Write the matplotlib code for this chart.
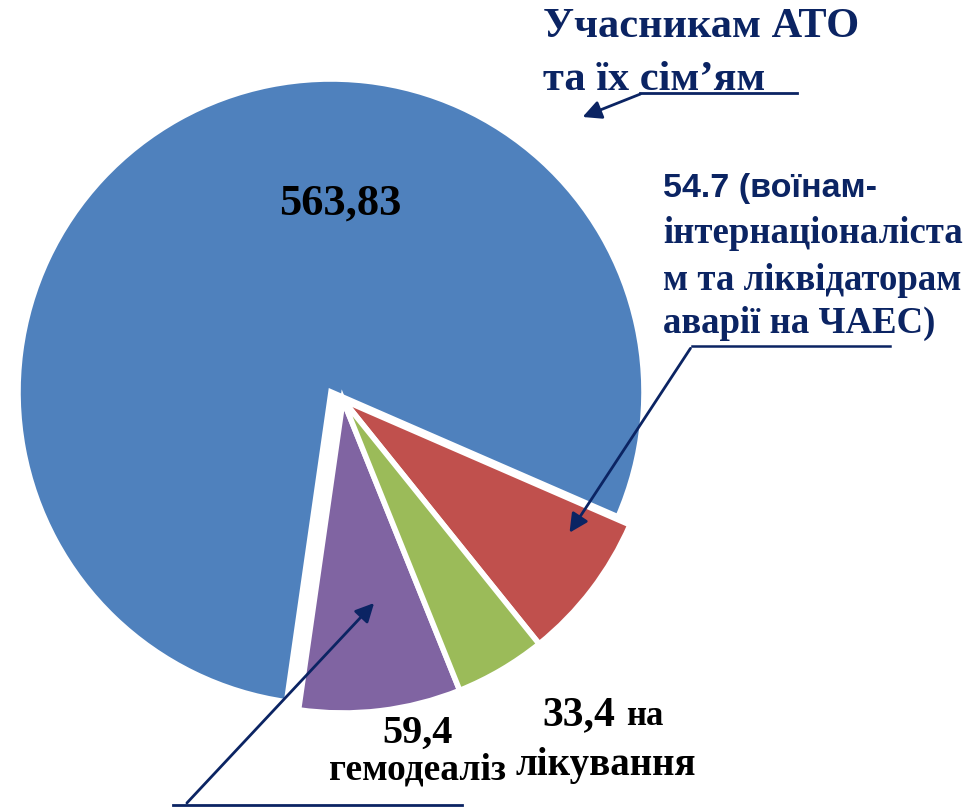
import matplotlib.pyplot as plt

# --- data
slice_names = ['ЧАЕС', 'АТО', 'гемодеаліз', 'лікування']
slice_values = [54.7, 563.83, 59.4, 33.4]
slice_colors = ['#C0504D', '#4F81BD', '#8064A2', '#9BBB59']
exploded = [True, False, True, True]   # small slices pulled out as a group

NAVY = '#0B2463'
SERIF = 'Liberation Serif'
SANS = 'Liberation Sans'
W, H = 980, 809


def py(y):
    # pixel row (from top) -> data y (from bottom)
    return H - y


fig = plt.figure(figsize=(W / 100, H / 100), dpi=100)
ax = fig.add_axes([0, 0, 1, 1])

cx, cy, r = 331, py(392), 313
wedges, _ = ax.pie(slice_values, colors=slice_colors, startangle=-51.2,
                   center=(cx, cy), radius=r, frame=True,
                   wedgeprops=dict(edgecolor='white', linewidth=4))
ax.set_xlim(0, W)
ax.set_ylim(0, H)
ax.set_aspect('equal')
ax.axis('off')
for w, ex in zip(wedges, exploded):
    if ex:
        w.set_center((cx + 12, cy - 8))

# --- value labels
ax.text(340, py(215), '563,83', family=SERIF, weight='bold', fontsize=32,
        color='black', ha='center', va='baseline')
ax.text(417, py(743), '59,4', family=SERIF, weight='bold', fontsize=29,
        color='black', ha='center', va='baseline')
ax.text(417, py(780), 'гемодеаліз', family=SERIF, weight='bold', fontsize=27,
        color='black', ha='center', va='baseline')
ax.text(542, py(725), '33,4', family=SERIF, weight='bold', fontsize=30,
        color='black', ha='left', va='baseline')
ax.text(626, py(725), 'на', family=SERIF, weight='bold', fontsize=25,
        color='black', ha='left', va='baseline')
ax.text(606, py(775), 'лікування', family=SERIF, weight='bold', fontsize=28,
        color='black', ha='center', va='baseline')

# --- title with underline and arrow
ax.text(543, py(37), 'Учасникам АТО', family=SERIF, weight='bold', fontsize=30.5,
        color=NAVY, ha='left', va='baseline')
ax.text(543, py(90), 'та їх сім’ям', family=SERIF, weight='bold', fontsize=30.5,
        color=NAVY, ha='left', va='baseline')
ax.plot([640, 797], [py(93), py(93)], color=NAVY, lw=2)
ax.annotate('', xy=(580, py(118)), xytext=(643, py(93)),
            arrowprops=dict(arrowstyle='-|>', color=NAVY, lw=2, mutation_scale=28))

# --- 54.7 block
ax.text(663, py(197), '54.7 (воїнам-', family=SANS, weight='bold', fontsize=24.5,
        color=NAVY, ha='left', va='baseline')
for txt, base in [('інтернаціоналіста', 243), ('м та ліквідаторам', 290),
                  ('аварії на ЧАЕС)', 333)]:
    ax.text(663, py(base), txt, family=SERIF, weight='bold', fontsize=26.5,
            color=NAVY, ha='left', va='baseline')
ax.plot([890, 692], [py(346), py(346)], color=NAVY, lw=1.8)
ax.annotate('', xy=(568, py(535)), xytext=(692, py(346)),
            arrowprops=dict(arrowstyle='-|>', color=NAVY, lw=2, mutation_scale=28))

# --- purple leader
ax.plot([173, 462], [py(805), py(805)], color=NAVY, lw=2)
ax.annotate('', xy=(376, py(601)), xytext=(185, py(805)),
            arrowprops=dict(arrowstyle='-|>', color=NAVY, lw=2, mutation_scale=28))

fig.savefig('out.png', dpi=100)
